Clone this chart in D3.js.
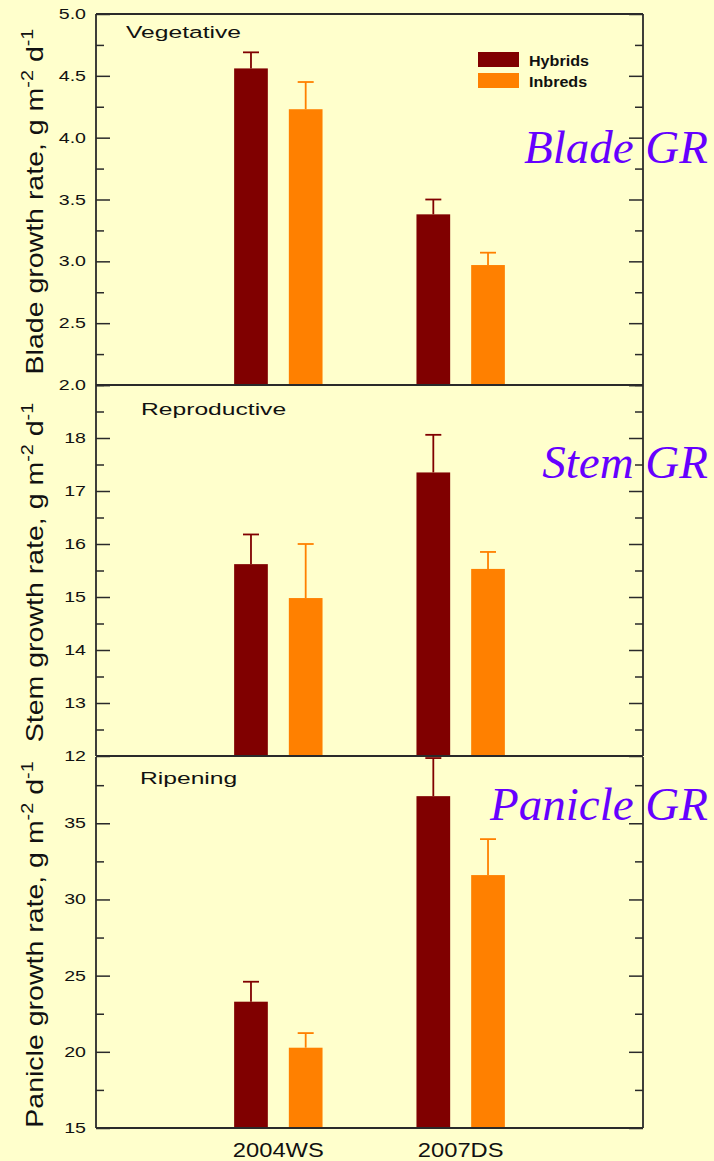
<!DOCTYPE html>
<html>
<head>
<meta charset="utf-8">
<script src="https://cdn.jsdelivr.net/npm/d3@7"></script>
<style>
  html, body { margin: 0; padding: 0; background: #ffffcc; }
  svg { display: block; }
  text { font-family: Arial, "Liberation Sans", sans-serif; fill: #111; }
  text.tag { font-family: "Liberation Serif", "Times New Roman", serif; font-style: italic; }
</style>
</head>
<body>
<svg id="chart" width="714" height="1161"></svg>
<script>
// Growth rates per season, hybrids vs inbreds (mean and standard error)
const seasons = ["2004WS", "2007DS"];
const groups = ["Hybrids", "Inbreds"];

const bladeHybrid = [4.56, 3.38];
const bladeHybridErr = [0.13, 0.12];
const bladeInbred = [4.23, 2.97];
const bladeInbredErr = [0.22, 0.10];

const stemHybrid = [15.62, 17.35];
const stemHybridErr = [0.56, 0.71];
const stemInbred = [14.98, 15.53];
const stemInbredErr = [1.02, 0.32];

const panicleHybrid = [23.29, 36.78];
const panicleHybridErr = [1.31, 2.50];
const panicleInbred = [20.27, 31.60];
const panicleInbredErr = [0.96, 2.36];

const bladeTicks = [2.0, 2.5, 3.0, 3.5, 4.0, 4.5, 5.0];
const stemTicks = [12, 13, 14, 15, 16, 17, 18];
const panicleTicks = [15, 20, 25, 30, 35];

const colors = { Hybrids: "#800000", Inbreds: "#ff8000" };
const axisColor = "#2a2a2a";
const grColor = "#6600ff";

const svg = d3.select("#chart");
const left = 96, right = 643;

// Categories sit at 1/3 and 2/3 of the plot width
const x = d3.scaleLinear().domain([0, 3]).range([left, right]);

function sub(center) {
  return d3.scaleBand().domain(groups).range([center - 44.2, center + 44.2]).paddingInner(0.384);
}

// Horizontally widened text helper
function wideText(g, tx, ty, str, size, sx, anchor, weight) {
  return g.append("text")
    .attr("transform", `translate(${tx},${ty}) scale(${sx},1)`)
    .attr("text-anchor", anchor || "start")
    .attr("font-size", size)
    .attr("font-weight", weight || "normal")
    .text(str);
}

const panels = [
  {
    top: 14, bottom: 385, domain: [2.0, 5.0], ticks: bladeTicks, minorStep: 0.25, fmt: d3.format(".1f"),
    title: "Vegetative", titleX: 126, titleY: 38,
    ylabel: "Blade growth rate, g m", tag: "Blade GR", tagY: 163,
    series: { Hybrids: [bladeHybrid, bladeHybridErr], Inbreds: [bladeInbred, bladeInbredErr] }
  },
  {
    top: 385, bottom: 756, domain: [12, 19], ticks: stemTicks, minorStep: 0.5, fmt: d3.format("d"),
    title: "Reproductive", titleX: 141, titleY: 415,
    ylabel: "Stem growth rate, g m", tag: "Stem GR", tagY: 478,
    series: { Hybrids: [stemHybrid, stemHybridErr], Inbreds: [stemInbred, stemInbredErr] }
  },
  {
    top: 757, bottom: 1128, domain: [15, 39.35], ticks: panicleTicks, minorStep: 2.5, fmt: d3.format("d"),
    title: "Ripening", titleX: 140, titleY: 784,
    ylabel: "Panicle growth rate, g m", tag: "Panicle GR", tagY: 820,
    series: { Hybrids: [panicleHybrid, panicleHybridErr], Inbreds: [panicleInbred, panicleInbredErr] }
  }
];

panels.forEach(p => {
  const g = svg.append("g");
  const y = d3.scaleLinear().domain(p.domain).range([p.bottom, p.top]);

  // Bars with one-sided error bars
  seasons.forEach((s, i) => {
    const cx = x(i + 1);
    const sb = sub(cx);
    groups.forEach(grp => {
      const [vals, errs] = p.series[grp];
      const v = vals[i], e = errs[i];
      const bx = sb(grp), bw = sb.bandwidth();
      const mid = bx + bw / 2;
      g.append("line")
        .attr("x1", mid).attr("x2", mid)
        .attr("y1", y(v)).attr("y2", y(v + e))
        .attr("stroke", colors[grp]).attr("stroke-width", 1.8);
      g.append("line")
        .attr("x1", mid - 8).attr("x2", mid + 8)
        .attr("y1", y(v + e)).attr("y2", y(v + e))
        .attr("stroke", colors[grp]).attr("stroke-width", 1.8);
      g.append("rect")
        .attr("x", bx).attr("width", bw)
        .attr("y", y(v)).attr("height", y(p.domain[0]) - y(v))
        .attr("fill", colors[grp]);
    });
  });

  // Minor and major ticks, inward on both sides
  const minor = d3.range(p.domain[0], p.domain[1] + 1e-9, p.minorStep)
    .filter(v => !p.ticks.some(t => Math.abs(t - v) < 1e-9));
  const majorAll = d3.range(p.domain[0], p.domain[1] + 1e-9, p.minorStep * 2);

  const leftAxis = d3.axisRight(y).tickValues(minor).tickSize(8).tickFormat("");
  const leftMajor = d3.axisRight(y).tickValues(majorAll).tickSize(14).tickFormat("");
  const rightAxis = d3.axisLeft(y).tickValues(minor).tickSize(8).tickFormat("");
  const rightMajor = d3.axisLeft(y).tickValues(majorAll).tickSize(14).tickFormat("");

  [[leftAxis, left], [leftMajor, left], [rightAxis, right], [rightMajor, right]].forEach(([ax, pos]) => {
    const a = g.append("g").attr("transform", `translate(${pos},0)`).call(ax);
    a.select(".domain").remove();
    a.selectAll("line").attr("stroke", axisColor).attr("stroke-width", 1.5);
  });

  // Frame
  g.append("line").attr("x1", left).attr("x2", left).attr("y1", p.top).attr("y2", p.bottom)
    .attr("stroke", axisColor).attr("stroke-width", 1.8);
  g.append("line").attr("x1", right).attr("x2", right).attr("y1", p.top).attr("y2", p.bottom)
    .attr("stroke", axisColor).attr("stroke-width", 1.8);
  g.append("line").attr("x1", left).attr("x2", right).attr("y1", p.bottom).attr("y2", p.bottom)
    .attr("stroke", axisColor).attr("stroke-width", 1.8);
  if (p.top === 14) {
    g.append("line").attr("x1", left).attr("x2", right).attr("y1", p.top).attr("y2", p.top)
      .attr("stroke", axisColor).attr("stroke-width", 1.8);
  }

  // Tick labels
  p.ticks.forEach(t => {
    wideText(g, 86, y(t) + 5, p.fmt(t), 14, 1.4, "end");
  });

  // Stage title
  wideText(g, p.titleX, p.titleY, p.title, 17, 1.45, "start");

  // Y axis title with superscripts
  const cy = (p.top + p.bottom) / 2;
  const yt = g.append("text")
    .attr("transform", `translate(43,${cy + 2}) rotate(-90) scale(1.24,1)`)
    .attr("text-anchor", "middle")
    .attr("font-size", 23);
  yt.append("tspan").text(p.ylabel);
  yt.append("tspan").attr("dy", -10).attr("font-size", 16).text("-2");
  yt.append("tspan").attr("dy", 10).text(" d");
  yt.append("tspan").attr("dy", -10).attr("font-size", 16).text("-1");

  // Large italic tag on the right
  g.append("text")
    .attr("class", "tag")
    .attr("x", 708).attr("y", p.tagY)
    .attr("text-anchor", "end")
    .attr("font-size", 47)
    .style("fill", grColor)
    .text(p.tag);
});

// Category labels under the bottom panel
seasons.forEach((s, i) => {
  wideText(svg, x(i + 1), 1157, s, 21, 1.13, "middle");
});

// Legend
const lg = svg.append("g");
groups.forEach((grp, i) => {
  lg.append("rect")
    .attr("x", 478).attr("y", 52 + i * 21)
    .attr("width", 41).attr("height", 15)
    .attr("fill", colors[grp]);
  wideText(lg, 529, 66 + i * 21, grp, 14, 1.15, "start", "bold");
});
</script>
</body>
</html>
